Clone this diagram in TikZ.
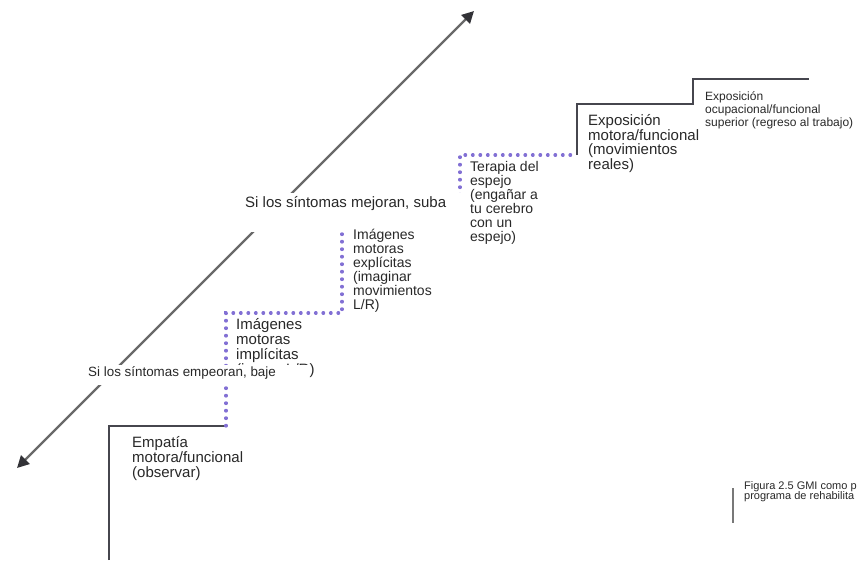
\documentclass[tikz,border=0pt]{standalone}
\usepackage{fontspec}
\setmainfont{Liberation Sans}
\usetikzlibrary{arrows.meta}
\definecolor{txt}{RGB}{40,40,40}
\definecolor{arrowgray}{RGB}{105,105,105}
\definecolor{tipgray}{RGB}{50,50,55}
\definecolor{stepgray}{RGB}{70,70,78}
\definecolor{dotpurple}{RGB}{130,112,212}
\definecolor{bargray}{RGB}{120,120,120}
\newcommand{\stk}[2]{\vtop{\baselineskip=#1\lineskiplimit=-100pt\lineskip=0pt #2}}
\tikzset{
  lbl/.style={anchor=base west, inner sep=0pt, text=txt},
  solidstep/.style={draw=stepgray, line width=2pt},
  dotstep/.style={draw=dotpurple, line width=3.2pt, line cap=round, dash pattern=on 0.6pt off 6.9pt},
  bigarrow/.style={draw=arrowgray, line width=2.4pt,
    {Triangle[length=12pt,width=12pt,color=tipgray]}-{Triangle[length=12pt,width=12pt,color=tipgray]}},
  maskbox/.style={fill=white}
}
\begin{document}
\begin{tikzpicture}[x=1pt,y=-1pt]
\useasboundingbox (0,0) rectangle (860,560);
% coordinates
\coordinate (aLow) at (17,468);
\coordinate (aHigh) at (474,11);
\coordinate (s0) at (109,560);
\coordinate (s1) at (109,426);
\coordinate (s2) at (226,426);
\coordinate (s3) at (226,313);
\coordinate (s4) at (342,313);
\coordinate (s5) at (342,212);
\coordinate (s6) at (460,212);
\coordinate (s7) at (460,155);
\coordinate (s8) at (577,155);
\coordinate (s9) at (577,104);
\coordinate (s10) at (693,104);
\coordinate (s11) at (693,79);
\coordinate (s12) at (809,79);
% arrow
\draw[bigarrow] (aLow) -- (aHigh);
% stairs
\draw[solidstep] (s0) -- (s1) -- (s2);
\draw[dotstep] (s2) -- (s3) -- (s4) -- (s5) -- (s6) -- (s7) -- (s8);
\draw[solidstep] (s8) -- (s9) -- (s10) -- (s11) -- (s12);
% implicit imagery text (partly masked)
\node[lbl, font=\fontsize{15}{15}\selectfont] (implicit) at (236,329)
  {\stk{15pt}{\hbox{Imágenes}\hbox{motoras}\hbox{implícitas}\hbox{(juzgar L/R)}}};
% masks
\fill[maskbox] (240,193) rectangle (466,232);
\fill[maskbox] (84,365) rectangle (309,385);
% arrow labels
\node[lbl, font=\fontsize{15}{15}\selectfont] (up) at (245,207) {Si los síntomas mejoran, suba};
\node[lbl, font=\fontsize{13.4}{13.4}\selectfont] (down) at (88,376) {Si los síntomas empeoran, baje};
% step texts
\node[lbl, font=\fontsize{15}{15}\selectfont] (empathy) at (132,447)
  {\stk{15pt}{\hbox{Empatía}\hbox{motora/funcional}\hbox{(observar)}}};
\node[lbl, font=\fontsize{14}{14}\selectfont] (explicit) at (353,239)
  {\stk{14pt}{\hbox{Imágenes}\hbox{motoras}\hbox{explícitas}\hbox{(imaginar}\hbox{movimientos}\hbox{L/R)}}};
\node[lbl, font=\fontsize{14}{14}\selectfont] (mirror) at (470,171)
  {\stk{14pt}{\hbox{Terapia del}\hbox{espejo}\hbox{(engañar a}\hbox{tu cerebro}\hbox{con un}\hbox{espejo)}}};
\node[lbl, font=\fontsize{15}{15}\selectfont] (motorexp) at (588,125.5)
  {\stk{14.5pt}{\hbox{Exposición}\hbox{motora/funcional}\hbox{(movimientos}\hbox{reales)}}};
\node[lbl, font=\fontsize{12}{12}\selectfont] (occexp) at (705,100)
  {\stk{13pt}{\hbox{Exposición}\hbox{ocupacional/funcional}\hbox{superior (regreso al trabajo)}}};
% caption
\draw[draw=bargray, line width=2pt] (733,488) coordinate (b1) -- (733,523) coordinate (b2);
\node[lbl, font=\fontsize{11}{11}\selectfont] (caption) at (744,489.5)
  {\stk{9.5pt}{\hbox{Figura 2.5 GMI como p}\hbox{programa de rehabilita}}};
\end{tikzpicture}
\end{document}
